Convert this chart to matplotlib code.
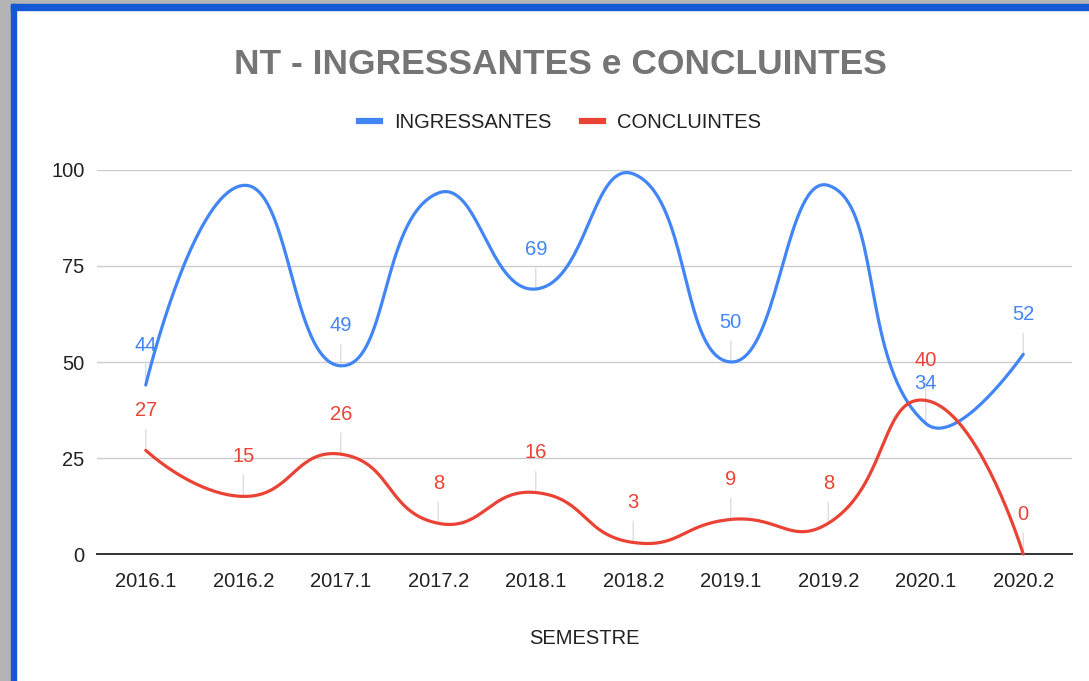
import numpy as np
import matplotlib.pyplot as plt
import matplotlib.lines as mlines
from matplotlib.patches import Rectangle

semestres = ['2016.1', '2016.2', '2017.1', '2017.2', '2018.1',
             '2018.2', '2019.1', '2019.2', '2020.1', '2020.2']
ingressantes = [44, 96, 49, 94, 69, 99, 50, 96, 34, 52]
concluintes = [27, 15, 26, 8, 16, 3, 9, 8, 40, 0]
y_ticks = [0, 25, 50, 75, 100]

BLUE = '#4285F4'
RED = '#EA4335'
plt.rcParams['font.family'] = ['Liberation Sans', 'DejaVu Sans']


def smooth_curve(xs, ys, sx, sy, t=0.5, steps=40):
    # bezier smoothing with control points scaled by neighbouring segment lengths
    p = np.column_stack([np.asarray(xs, float) * sx, np.asarray(ys, float) * sy])
    n = len(p)
    c_in = p.copy()
    c_out = p.copy()
    for i in range(1, n - 1):
        d01 = np.hypot(*(p[i] - p[i - 1]))
        d12 = np.hypot(*(p[i + 1] - p[i]))
        fa = t * d01 / (d01 + d12)
        fb = t * d12 / (d01 + d12)
        c_in[i] = p[i] - fa * (p[i + 1] - p[i - 1])
        c_out[i] = p[i] + fb * (p[i + 1] - p[i - 1])
    u = np.linspace(0, 1, steps)[:, None]
    pts = []
    for i in range(n - 1):
        b = ((1 - u) ** 3 * p[i] + 3 * (1 - u) ** 2 * u * c_out[i]
             + 3 * (1 - u) * u ** 2 * c_in[i + 1] + u ** 3 * p[i + 1])
        pts.append(b)
    pts = np.vstack(pts)
    return pts[:, 0] / sx, pts[:, 1] / sy


W, H = 1089, 681
fig = plt.figure(figsize=(W / 100, H / 100), dpi=100)

# screenshot frame: grey outside, blue border left and top
fig.patches.append(Rectangle((0, 0), 11 / W, 1, transform=fig.transFigure,
                             color='#b4b4b4', zorder=0))
fig.patches.append(Rectangle((0, 1 - 4 / H), 1, 4 / H, transform=fig.transFigure,
                             color='#b4b4b4', zorder=0))
fig.patches.append(Rectangle((11 / W, 0), 5 / W, 1 - 4 / H, transform=fig.transFigure,
                             color='#1558d6', zorder=1))
fig.patches.append(Rectangle((11 / W, 1 - 10 / H), 1 - 11 / W, 6 / H,
                             transform=fig.transFigure, color='#1558d6', zorder=1))

left, right, bottom, top = 97, 1072, 554, 170
ax = fig.add_axes([left / W, 1 - bottom / H, (right - left) / W, (bottom - top) / H])
ax.set_xlim(-0.5, len(semestres) - 0.5)
ax.set_ylim(0, 100)

x = np.arange(len(semestres))
sx = (right - left) / len(semestres)
sy = (bottom - top) / 100
label_off = 40  # pixels above the point

for vals, color in [(ingressantes, BLUE), (concluintes, RED)]:
    cx, cy = smooth_curve(x, vals, sx, sy)
    ax.plot(cx, cy, color=color, lw=2.3, zorder=4, clip_on=False,
            solid_capstyle='round')
    for xi, v in zip(x, vals):
        # labels that would fall above the plot area are hidden
        if v + label_off / sy > 100:
            continue
        ax.annotate('', xy=(xi, v), xytext=(0, 21), textcoords='offset pixels',
                    arrowprops=dict(arrowstyle='-', color='#dedede', lw=1,
                                    shrinkA=0, shrinkB=0), zorder=2)
        ax.annotate(str(v), xy=(xi, v), xytext=(0, label_off), textcoords='offset pixels',
                    ha='center', va='center', color=color, fontsize=14.5, zorder=5)

ax.set_yticks(y_ticks)
ax.set_xticks(x)
ax.set_xticklabels(semestres)
ax.grid(axis='y', color='#cccccc', lw=1)
ax.set_axisbelow(True)
for s in ['top', 'right', 'left']:
    ax.spines[s].set_visible(False)
ax.spines['bottom'].set_color('#333333')
ax.spines['bottom'].set_linewidth(1.4)
ax.spines['bottom'].set_zorder(3)
ax.tick_params(length=0, labelsize=14.5, labelcolor='#222222')
ax.tick_params(axis='x', pad=13)
ax.tick_params(axis='y', pad=9)
ax.set_xlabel('SEMESTRE', fontsize=14.5, color='#222222', labelpad=27)

fig.text(560 / W, 1 - 64 / H, 'NT - INGRESSANTES e CONCLUINTES', ha='center',
         va='center', fontsize=25.5, fontweight='bold', color='#757575')

handles = [mlines.Line2D([], [], color=BLUE, lw=4.5, label='INGRESSANTES'),
           mlines.Line2D([], [], color=RED, lw=4.5, label='CONCLUINTES')]
fig.legend(handles=handles, loc='center', bbox_to_anchor=(560 / W, 1 - 123 / H),
           ncol=2, frameon=False, fontsize=14.5, handlelength=1.05,
           handletextpad=0.72, columnspacing=1.5, labelcolor='#222222')

fig.savefig('out.png', dpi=100, facecolor='white')
